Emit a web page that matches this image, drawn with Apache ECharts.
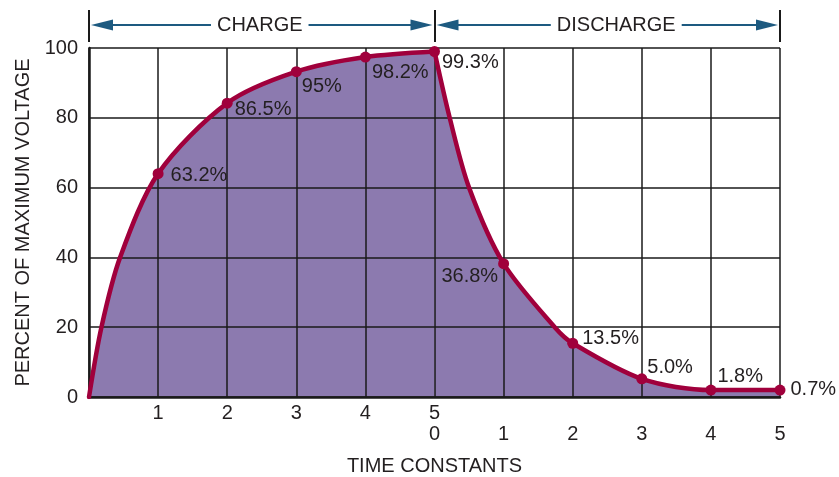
<!DOCTYPE html>
<html>
<head>
<meta charset="utf-8">
<script src="https://cdn.jsdelivr.net/npm/echarts@6/dist/echarts.min.js"></script>
<style>
html,body{margin:0;padding:0;background:#fff;}
#chart{width:839px;height:477px;}
</style>
</head>
<body>
<div id="chart"></div>
<script>
// ---- data ----
const xTicks = [0, 1, 2, 3, 4, 5, 6, 7, 8, 9, 10];
const yTicks = [0, 20, 40, 60, 80, 100];
const chargeT = [0, 0.18, 0.45, 1, 2, 3, 4, 5];
const chargeV = [0, 20, 40, 64, 84.2, 93.2, 97.4, 99];
const dischargeT = [5, 5.22, 5.5, 6, 6.74, 7, 8, 9, 10];
const dischargeV = [99, 80, 60, 38.2, 20, 15.4, 5.2, 2, 2];
const markerT = [1, 2, 3, 4, 5, 6, 7, 8, 9, 10];
const markerV = [64, 84.2, 93.2, 97.4, 99, 38.2, 15.4, 5.2, 2, 2];
const markerLabels = ['63.2%', '86.5%', '95%', '98.2%', '99.3%', '36.8%', '13.5%', '5.0%', '1.8%', '0.7%'];
const phaseNames = ['CHARGE', 'DISCHARGE'];
const phaseBounds = [[0, 5], [5, 10]];

// ---- layout (label placement) ----
const labelPos = ['right', 'right', 'right', 'right', 'right', 'left', 'right', 'right', 'right', 'right'];
const labelOffset = [[7, 2], [2, 6], [0, 15], [1, 15], [2, 11], [0, 13], [4, -5], [0, -11], [1, -14], [5, -1]];

const FONT = "'Liberation Sans', Arial, Helvetica, sans-serif";
const FS = 20;
const TXT = '#231f20';
const LINE = '#a0003c';
const FILL = '#8c7aaf';
const ARROW = '#1d5a80';

const chart = echarts.init(document.getElementById('chart'), null, {renderer: 'canvas'});

const zip = (a, b) => a.map((v, i) => [v, b[i]]);
const SMOOTH = 0.3;

function areaSeries(name, t, v) {
  return {
    type: 'line', name: name + '-area', data: zip(t, v), smooth: SMOOTH,
    showSymbol: false, silent: true, z: 1,
    lineStyle: {width: 0, opacity: 0},
    areaStyle: {color: FILL, opacity: 1, origin: 'start'}
  };
}
function lineSeries(name, t, v) {
  return {
    type: 'line', name: name, data: zip(t, v), smooth: SMOOTH,
    showSymbol: false, z: 4,
    lineStyle: {color: LINE, width: 4.5, cap: 'round', join: 'round'}
  };
}

const axisLineStyle = {color: '#1a1a1a', width: 2.5};
const splitStyle = {color: '#1a1a1a', width: 1.5};

const option = {
  animation: false,
  backgroundColor: '#fff',
  textStyle: {fontFamily: FONT},
  grid: {left: 89, right: 59, top: 48, bottom: 80, containLabel: false, outerBoundsMode: 'none'},
  xAxis: {
    type: 'value', min: 0, max: 10, interval: 1, z: 2,
    name: 'TIME CONSTANTS', nameLocation: 'middle', nameGap: 59,
    nameTextStyle: {fontFamily: FONT, fontSize: FS, color: TXT},
    axisLine: {show: true, lineStyle: axisLineStyle},
    axisTick: {show: false},
    splitLine: {show: true, lineStyle: splitStyle},
    axisLabel: {
      fontFamily: FONT, fontSize: FS, color: TXT, margin: 6, lineHeight: 21,
      verticalAlign: 'top',
      formatter: function (v) {
        if (v === 0) return '';
        if (v < 5) return String(v);
        if (v === 5) return '5\n0';
        return '\n' + String(v - 5);
      }
    }
  },
  yAxis: {
    type: 'value', min: 0, max: 100, interval: 20, z: 2,
    name: 'PERCENT OF MAXIMUM VOLTAGE', nameLocation: 'middle', nameGap: 56,
    nameTextStyle: {fontFamily: FONT, fontSize: FS, color: TXT},
    axisLine: {show: true, lineStyle: axisLineStyle},
    axisTick: {show: false},
    splitLine: {show: true, lineStyle: splitStyle},
    axisLabel: {fontFamily: FONT, fontSize: FS, color: TXT, margin: 11}
  },
  series: [
    areaSeries('charge', chargeT, chargeV),
    areaSeries('discharge', dischargeT, dischargeV),
    lineSeries('charge', chargeT, chargeV),
    lineSeries('discharge', dischargeT, dischargeV),
    {
      type: 'scatter', name: 'points', z: 5,
      symbol: 'circle', symbolSize: 11,
      itemStyle: {color: LINE, opacity: 1},
      data: markerT.map((t, i) => ({
        value: [t, markerV[i]],
        label: {
          show: true, formatter: markerLabels[i], position: labelPos[i],
          distance: 0, offset: labelOffset[i],
          fontFamily: FONT, fontSize: FS, color: TXT
        }
      }))
    }
  ]
};
chart.setOption(option);

// ---- phase annotations above the plot ----
function drawPhases() {
  const els = [];
  const yA = 25;
  const bars = new Set();
  phaseBounds.forEach((b, i) => {
    const xa = chart.convertToPixel({gridIndex: 0}, [b[0], 0])[0];
    const xb = chart.convertToPixel({gridIndex: 0}, [b[1], 0])[0];
    bars.add(Math.round(xa)); bars.add(Math.round(xb));
    const l = xa + 2, r = xb - 2;
    els.push({type: 'line', shape: {x1: l + 10, y1: yA, x2: r - 10, y2: yA},
      style: {stroke: ARROW, lineWidth: 2}, z: 10});
    els.push({type: 'polygon', shape: {points: [[l, yA], [l + 22, yA - 5.5], [l + 22, yA + 5.5]]},
      style: {fill: ARROW}, z: 11});
    els.push({type: 'polygon', shape: {points: [[r, yA], [r - 22, yA - 5.5], [r - 22, yA + 5.5]]},
      style: {fill: ARROW}, z: 11});
    const cx = (xa + xb) / 2 + (i === 1 ? 9 : -2);
    els.push({type: 'text', x: cx, y: yA, z: 12,
      style: {text: phaseNames[i], fontFamily: FONT, fontSize: FS, fill: TXT,
        align: 'center', verticalAlign: 'middle', backgroundColor: '#fff', padding: [2, 6]}});
  });
  bars.forEach(x => {
    els.push({type: 'line', shape: {x1: x, y1: 10, x2: x, y2: 42},
      style: {stroke: '#1a1a1a', lineWidth: 2}, z: 10});
  });
  chart.setOption({graphic: {elements: els}});
}
drawPhases();
</script>
</body>
</html>
